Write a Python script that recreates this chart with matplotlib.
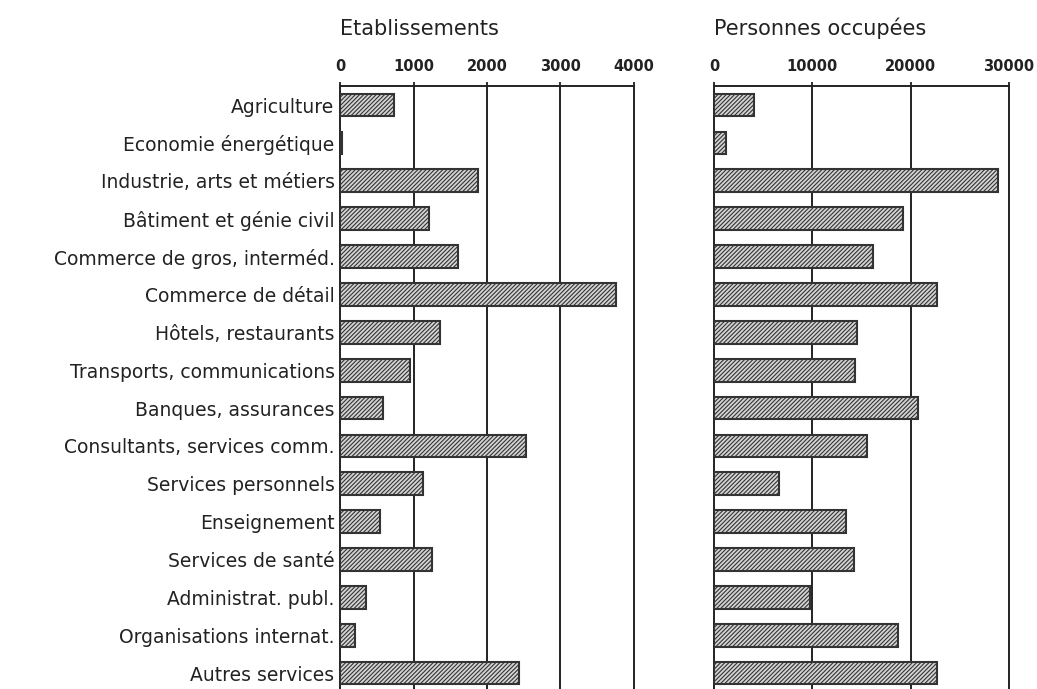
import numpy as np
import matplotlib.pyplot as plt

categories = ['Agriculture', 'Economie énergétique', 'Industrie, arts et métiers',
              'Bâtiment et génie civil', 'Commerce de gros, interméd.',
              'Commerce de détail', 'Hôtels, restaurants', 'Transports, communications',
              'Banques, assurances', 'Consultants, services comm.', 'Services personnels',
              'Enseignement', 'Services de santé', 'Administrat. publ.',
              'Organisations internat.', 'Autres services']
etablissements = [735, 20, 1880, 1215, 1600, 3765, 1360, 950, 585, 2530, 1130,
                  545, 1255, 355, 205, 2440]
personnes = [4100, 1200, 28900, 19200, 16200, 22700, 14500, 14300, 20700, 15600,
             6600, 13400, 14200, 9800, 18700, 22700]
ticks_etab = [0, 1000, 2000, 3000, 4000]
ticks_pers = [0, 10000, 20000, 30000]

plt.rcParams['hatch.linewidth'] = 0.8
plt.rcParams['hatch.color'] = '#555555'

fig = plt.figure(figsize=(10.37, 6.89), dpi=100)
ax1 = fig.add_axes([0.328, 0.0, 0.283, 0.875])
ax2 = fig.add_axes([0.6885, 0.0, 0.2845, 0.875])

y = np.arange(len(categories))

def draw(ax, values, ticks, xmax, title):
    ax.barh(y, values, height=0.6, color='#d4d4d4', edgecolor='#333333',
            hatch='////////', linewidth=1.5, zorder=3)
    ax.set_xlim(0, xmax)
    ax.set_ylim(15.42, -0.5)
    ax.xaxis.tick_top()
    ax.set_xticks(ticks)
    ax.set_xticklabels([str(t) for t in ticks], fontsize=10.5, fontweight='bold', color='#222222')
    ax.tick_params(axis='x', length=3, width=1.3, pad=6, color='#222222')
    for t in ticks:
        ax.axvline(t, color='#222222', lw=1.4, zorder=1, clip_on=False)
    for s in ['right', 'bottom', 'left']:
        ax.spines[s].set_visible(False)
    ax.spines['top'].set_linewidth(1.4)
    ax.spines['top'].set_color('#222222')
    ax.set_yticks([])
    ax.text(0, -1.75, title, transform=ax.transData, fontsize=15, color='#222222',
            ha='left', va='bottom', clip_on=False)

draw(ax1, etablissements, ticks_etab, 4000, 'Etablissements')
draw(ax2, personnes, ticks_pers, 30000, 'Personnes occupées')

ax1.set_yticks(y)
ax1.set_yticklabels(categories, fontsize=13.5, color='#222222')
ax1.tick_params(axis='y', length=0, pad=4)

fig.savefig('out.png', dpi=100)
